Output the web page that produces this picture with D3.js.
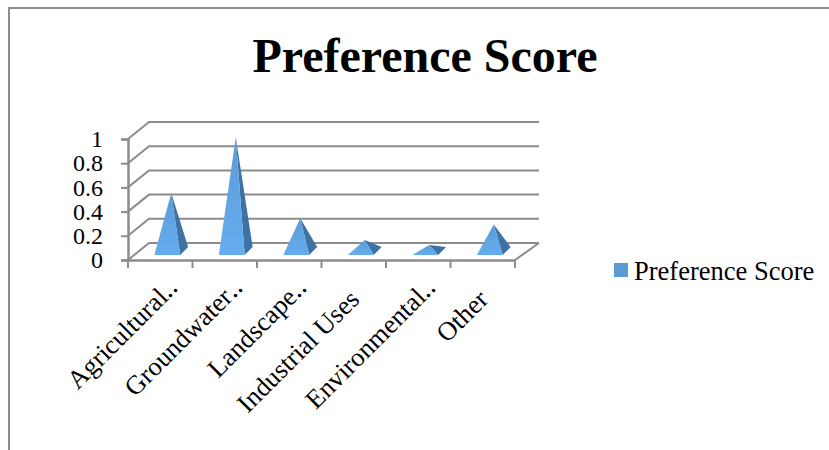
<!DOCTYPE html>
<html>
<head>
<meta charset="utf-8">
<script src="https://cdn.jsdelivr.net/npm/d3@7"></script>
<style>
  html, body { margin: 0; padding: 0; background: #fff; }
  text { font-family: "Liberation Serif", "Times New Roman", serif; fill: #000; }
</style>
</head>
<body>
<script>
var categories = ["Agricultural‥", "Groundwater‥", "Landscape‥", "Industrial Uses", "Environmental‥", "Other"];
var scores = [0.48, 0.94, 0.27, 0.09, 0.05, 0.22];
var yTicks = [0, 0.2, 0.4, 0.6, 0.8, 1];
var seriesName = "Preference Score";

var width = 829, height = 450;
var left = 128, right = 515, floorY = 260, topY = 139;
var depthX = 21, depthY = 17;   // how far the back wall sits from the front axes
var grey = "#8c8c8c";

var svg = d3.select("body").append("svg")
    .attr("width", width)
    .attr("height", height)
    .style("display", "block");

var grad = svg.append("defs").append("linearGradient")
    .attr("id", "front")
    .attr("x1", 0).attr("y1", 0)
    .attr("x2", 0).attr("y2", 1);
grad.append("stop").attr("offset", 0).attr("stop-color", "#5b9bd8");
grad.append("stop").attr("offset", 1).attr("stop-color", "#65adee");

// outer frame, only the top and left edges are visible
svg.append("path")
    .attr("d", "M9,450V8H829")
    .attr("fill", "none")
    .attr("stroke", grey)
    .attr("stroke-width", 2);

svg.append("text")
    .attr("x", 425)
    .attr("y", 72)
    .attr("text-anchor", "middle")
    .attr("font-size", 48)
    .attr("font-weight", "bold")
    .text(seriesName);

var x = d3.scaleBand().domain(categories).range([left, right]);
var y = d3.scaleLinear().domain([0, 1]).range([floorY, topY]);

// wall and floor lines
svg.append("g").selectAll("path")
    .data(yTicks)
    .enter()
    .append("path")
    .attr("d", function(d) {
        return d3.line()([[left, y(d)], [left + depthX, y(d) - depthY], [right + depthX + 3, y(d) - depthY]]);
    })
    .attr("fill", "none")
    .attr("stroke", grey)
    .attr("stroke-width", 2);

svg.append("line")
    .attr("x1", right).attr("y1", floorY)
    .attr("x2", right + depthX + 3).attr("y2", floorY - depthY)
    .attr("stroke", grey)
    .attr("stroke-width", 2);

// axes
var yAxis = svg.append("g")
    .attr("transform", "translate(" + left + ",0)")
    .call(d3.axisLeft(y).tickValues(yTicks).tickFormat(d3.format("~g")).tickSize(7).tickPadding(18));

var xAxis = svg.append("g")
    .attr("transform", "translate(0," + floorY + ")")
    .call(d3.axisBottom(x).tickSize(0).tickFormat(function(d) { return d; }));

xAxis.selectAll(".tick line").remove();

// tick marks sit on band edges, not centres
xAxis.selectAll("line.edge")
    .data(d3.range(categories.length + 1))
    .enter()
    .append("line")
    .attr("class", "edge")
    .attr("x1", function(i) { return left + i * x.step(); })
    .attr("x2", function(i) { return left + i * x.step(); })
    .attr("y1", 0)
    .attr("y2", 8)
    .attr("stroke", grey)
    .attr("stroke-width", 2);

[yAxis, xAxis].forEach(function(axis) {
    axis.selectAll(".domain").attr("stroke", grey).attr("stroke-width", 2.5);
    axis.selectAll(".tick line").attr("stroke", grey).attr("stroke-width", 2);
    axis.selectAll("text")
        .attr("font-family", "Liberation Serif")
        .attr("fill", "#000");
});

yAxis.selectAll("text").attr("font-size", 24);

// shortened labels let their dots hang past the tick
xAxis.selectAll(".tick text")
    .attr("font-size", 26.5)
    .attr("text-anchor", "end")
    .attr("dx", 0)
    .attr("dy", 0)
    .attr("y", 0)
    .attr("transform", function(d) {
        return /‥$/.test(d) ? "translate(19,29) rotate(-45)" : "translate(7,41) rotate(-45)";
    });

// pyramids
var baseW = x.step() * 0.4;
var marks = svg.append("g").selectAll("g")
    .data(scores)
    .enter()
    .append("g");

function corners(d, i) {
    var cx = x(categories[i]) + x.step() / 2 + 7;
    var fl = [cx - baseW / 2, floorY - 5];
    var fr = [cx + baseW / 2, floorY - 5];
    var br = [fr[0] + 8, floorY - 13];
    var apex = [cx + 4, y(d) - 9];
    return { fl: fl, fr: fr, br: br, apex: apex };
}

// dark side face
marks.append("path")
    .attr("d", function(d, i) {
        var c = corners(d, i);
        return d3.line()([c.fr, c.br, c.apex]) + "Z";
    })
    .attr("fill", "#3c72a4");

// lit front face
marks.append("path")
    .attr("d", function(d, i) {
        var c = corners(d, i);
        return d3.line()([c.fl, c.fr, c.apex]) + "Z";
    })
    .attr("fill", "url(#front)");

// legend
svg.append("rect")
    .attr("x", 614)
    .attr("y", 263)
    .attr("width", 14)
    .attr("height", 14)
    .attr("fill", "#5b9bd5");

svg.append("text")
    .attr("x", 634)
    .attr("y", 280)
    .attr("font-size", 26.5)
    .text(seriesName);
</script>
</body>
</html>
